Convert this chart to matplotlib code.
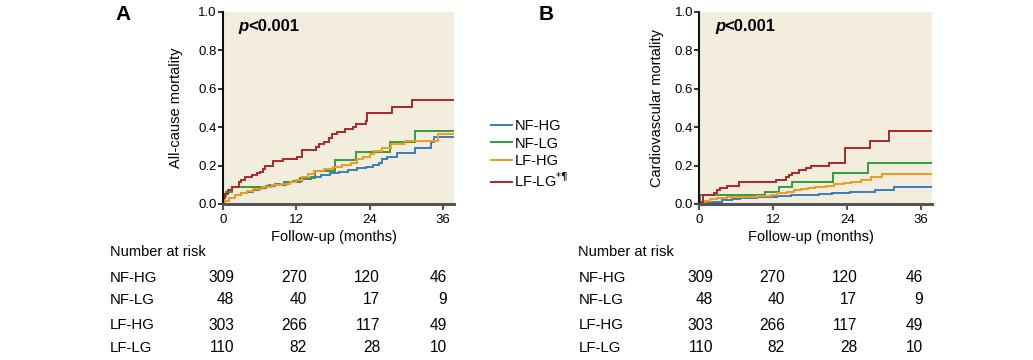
import numpy as np
import matplotlib
matplotlib.use("Agg")
import matplotlib.pyplot as plt

# ---- data ----
groups = ["NF-HG", "NF-LG", "LF-HG", "LF-LG"]
legend_labels = ["NF-HG", "NF-LG", "LF-HG", r"LF-LG$^{*¶}$"]
colors = ["#3b7dc0", "#2f9e3f", "#f39a1e", "#b0252a"]

# panel A: all-cause mortality (step curves, time in months)
a_nfhg_t = [0, 0.3, 1, 2, 3, 4, 5, 6, 7, 8.5, 10, 11.5, 13, 14.5, 16, 17.5, 19, 20.5, 22, 23.5,
            24.5, 25.5, 26.1, 26.9, 28.5, 31.4, 34.0, 34.5]
a_nfhg_v = [0, 0.015, 0.03, 0.045, 0.055, 0.065, 0.075, 0.085, 0.095, 0.105, 0.112, 0.12, 0.13, 0.14,
            0.15, 0.16, 0.168, 0.176, 0.185, 0.194, 0.205, 0.215, 0.233, 0.246, 0.267, 0.29, 0.325, 0.347]
a_nflg_t = [0, 0.15, 0.5, 1.5, 7.6, 10.4, 12.6, 15.1, 18.3, 21.8, 27.4, 31.5]
a_nflg_v = [0, 0.04, 0.065, 0.088, 0.1, 0.115, 0.135, 0.17, 0.23, 0.27, 0.323, 0.382]
a_lfhg_t = [0, 0.3, 1, 2, 3, 4, 5, 6.5, 8, 9.5, 11, 12, 13, 14, 15, 16.5, 18, 19.5, 21, 22, 23, 24,
            24.8, 26, 27.5, 29.8, 35.2]
a_lfhg_v = [0, 0.015, 0.03, 0.045, 0.057, 0.067, 0.077, 0.087, 0.097, 0.105, 0.115, 0.125, 0.14, 0.155,
            0.17, 0.18, 0.195, 0.205, 0.215, 0.235, 0.245, 0.26, 0.275, 0.29, 0.315, 0.328, 0.363]
a_lflg_t = [0, 0.1, 0.3, 0.8, 1.5, 2.6, 3.0, 3.7, 4.8, 5.6, 6.1, 6.6, 6.9, 8.3, 9.9, 12.1, 12.9, 15.3,
            15.8, 16.5, 17.3, 17.9, 18.7, 20.0, 21.3, 21.8, 23.4, 23.6, 27.7, 31.0]
a_lflg_v = [0, 0.03, 0.05, 0.073, 0.09, 0.115, 0.125, 0.14, 0.15, 0.16, 0.167, 0.18, 0.198, 0.224, 0.232,
            0.245, 0.28, 0.297, 0.314, 0.323, 0.342, 0.363, 0.373, 0.389, 0.403, 0.417, 0.434, 0.472,
            0.504, 0.542]

# panel B: cardiovascular mortality
b_nfhg_t = [0, 0.9, 1.8, 3.7, 5.3, 6.6, 9.4, 12.6, 14.8, 17.5, 19.5, 21.5, 24.5, 28.5, 31.6]
b_nfhg_v = [0, 0.005, 0.012, 0.021, 0.026, 0.03, 0.035, 0.04, 0.045, 0.048, 0.052, 0.056, 0.062,
            0.073, 0.09]
b_nflg_t = [0, 0.05, 10.7, 12.9, 15.0, 21.7, 27.3]
b_nflg_v = [0, 0.045, 0.065, 0.09, 0.113, 0.16, 0.215]
b_lfhg_t = [0, 0.3, 0.9, 1.8, 2.9, 4.5, 9.4, 11.6, 12.6, 14.3, 15.4, 16.5, 17.6, 18.7, 20.5, 21.9,
            23.5, 24.6, 26.2, 27.8, 29.7]
b_lfhg_v = [0, 0.005, 0.017, 0.024, 0.033, 0.038, 0.042, 0.047, 0.056, 0.065, 0.073, 0.077, 0.082,
            0.09, 0.095, 0.102, 0.111, 0.116, 0.125, 0.139, 0.156]
b_lflg_t = [0, 0.1, 0.6, 2.4, 2.8, 3.4, 4.5, 6.4, 12.4, 14.0, 14.6, 15.1, 16.2, 17.3, 18.1, 21.0,
            23.6, 27.7, 30.8]
b_lflg_v = [0, 0.012, 0.047, 0.059, 0.073, 0.082, 0.094, 0.116, 0.125, 0.139, 0.151, 0.16, 0.177,
            0.19, 0.2, 0.212, 0.29, 0.328, 0.38]

# number at risk at 0, 12, 24, 36 months (same in both panels)
risk = {
    "NF-HG": [309, 270, 120, 46],
    "NF-LG": [48, 40, 17, 9],
    "LF-HG": [303, 266, 117, 49],
    "LF-LG": [110, 82, 28, 10],
}
xticks = [0, 12, 24, 36]
yticks = [0.0, 0.2, 0.4, 0.6, 0.8, 1.0]

plt.rcParams['font.family'] = ['Liberation Sans', 'DejaVu Sans']

W, H = 1033, 360
fig = plt.figure(figsize=(W / 100, H / 100), dpi=100)

def fx(px):
    return px / W

def fy(py):
    return 1 - py / H

XMAX = 37.8


def panel(left_px, right_px, curves, ylabel, ylabel_x, letter, letter_x):
    width = right_px - left_px
    ax = fig.add_axes([fx(left_px), fy(204), fx(width), 192 / H])
    ax.set_facecolor("#f2eddc")
    for (t, v), c in zip(curves, colors):
        tt = list(t) + [XMAX]
        vv = list(v) + [v[-1]]
        ax.step(tt, vv, where="post", color=c, lw=1.4, solid_joinstyle="miter")
    ax.set_xlim(0, XMAX)
    ax.set_ylim(0, 1.0)
    ax.set_xticks(xticks)
    ax.set_yticks(yticks)
    ax.set_yticklabels(["%.1f" % y for y in yticks])
    for s in ["top", "right"]:
        ax.spines[s].set_visible(False)
    ax.spines["left"].set_color("#111111")
    ax.spines["left"].set_linewidth(1.5)
    ax.spines["bottom"].set_color("#555555")
    ax.spines["bottom"].set_linewidth(2.2)
    ax.tick_params(axis="y", length=3.5, width=1.2, color="#111111", pad=1, labelsize=9.5)
    ax.tick_params(axis="x", length=4, width=1.5, color="#555555", pad=3, labelsize=9.5)
    ax.set_ylabel(ylabel, fontsize=10.5, va="center")
    ax.yaxis.set_label_coords(-(left_px - ylabel_x) / width, 0.5)
    ax.set_xlabel("Follow-up (months)", fontsize=10.5, va="center")
    ax.xaxis.set_label_coords(0.48, -33 / 192)
    ax.text(0.068, 0.922, "p", transform=ax.transAxes, fontsize=12, fontweight="bold",
            fontstyle="italic", va="center", ha="left")
    ax.text(0.068 + 9.5 / width, 0.922, "<0.001", transform=ax.transAxes,
            fontsize=12, fontweight="bold", va="center", ha="left")
    fig.text(fx(letter_x), fy(15), letter, fontsize=15, fontweight="bold", va="center", ha="left")
    return ax


curves_a = [(a_nfhg_t, a_nfhg_v), (a_nflg_t, a_nflg_v), (a_lfhg_t, a_lfhg_v), (a_lflg_t, a_lflg_v)]
curves_b = [(b_nfhg_t, b_nfhg_v), (b_nflg_t, b_nflg_v), (b_lfhg_t, b_lfhg_v), (b_lflg_t, b_lflg_v)]

ax_a = panel(222.7, 454, curves_a, "All-cause mortality", 176, "A", 115)
ax_b = panel(699.3, 932.3, curves_b, "Cardiovascular mortality", 656.7, "B", 539)

# legend between the panels
handles = ax_a.get_lines()
fig.legend(handles, legend_labels, loc="upper left", bbox_to_anchor=(fx(491), fy(119)),
           frameon=False, fontsize=10.5, handlelength=1.45, handletextpad=0.15,
           labelspacing=0.24, borderpad=0, borderaxespad=0)

# number-at-risk tables
row_y = [278, 300, 325, 348]
tables = [(110, [234.3, 306.7, 380, 446.7]), (578.3, [713.3, 785, 857.3, 923.3])]
for label_x, col_x in tables:
    fig.text(fx(label_x), fy(252), "Number at risk", fontsize=10.5, va="center", ha="left")
    for g, yy in zip(groups, row_y):
        fig.text(fx(label_x), fy(yy), g, fontsize=10.8, va="center", ha="left")
        for n, xx in zip(risk[g], col_x):
            fig.text(fx(xx), fy(yy), str(n), fontsize=11.2, va="center", ha="right")

fig.savefig("out.png", dpi=100)
